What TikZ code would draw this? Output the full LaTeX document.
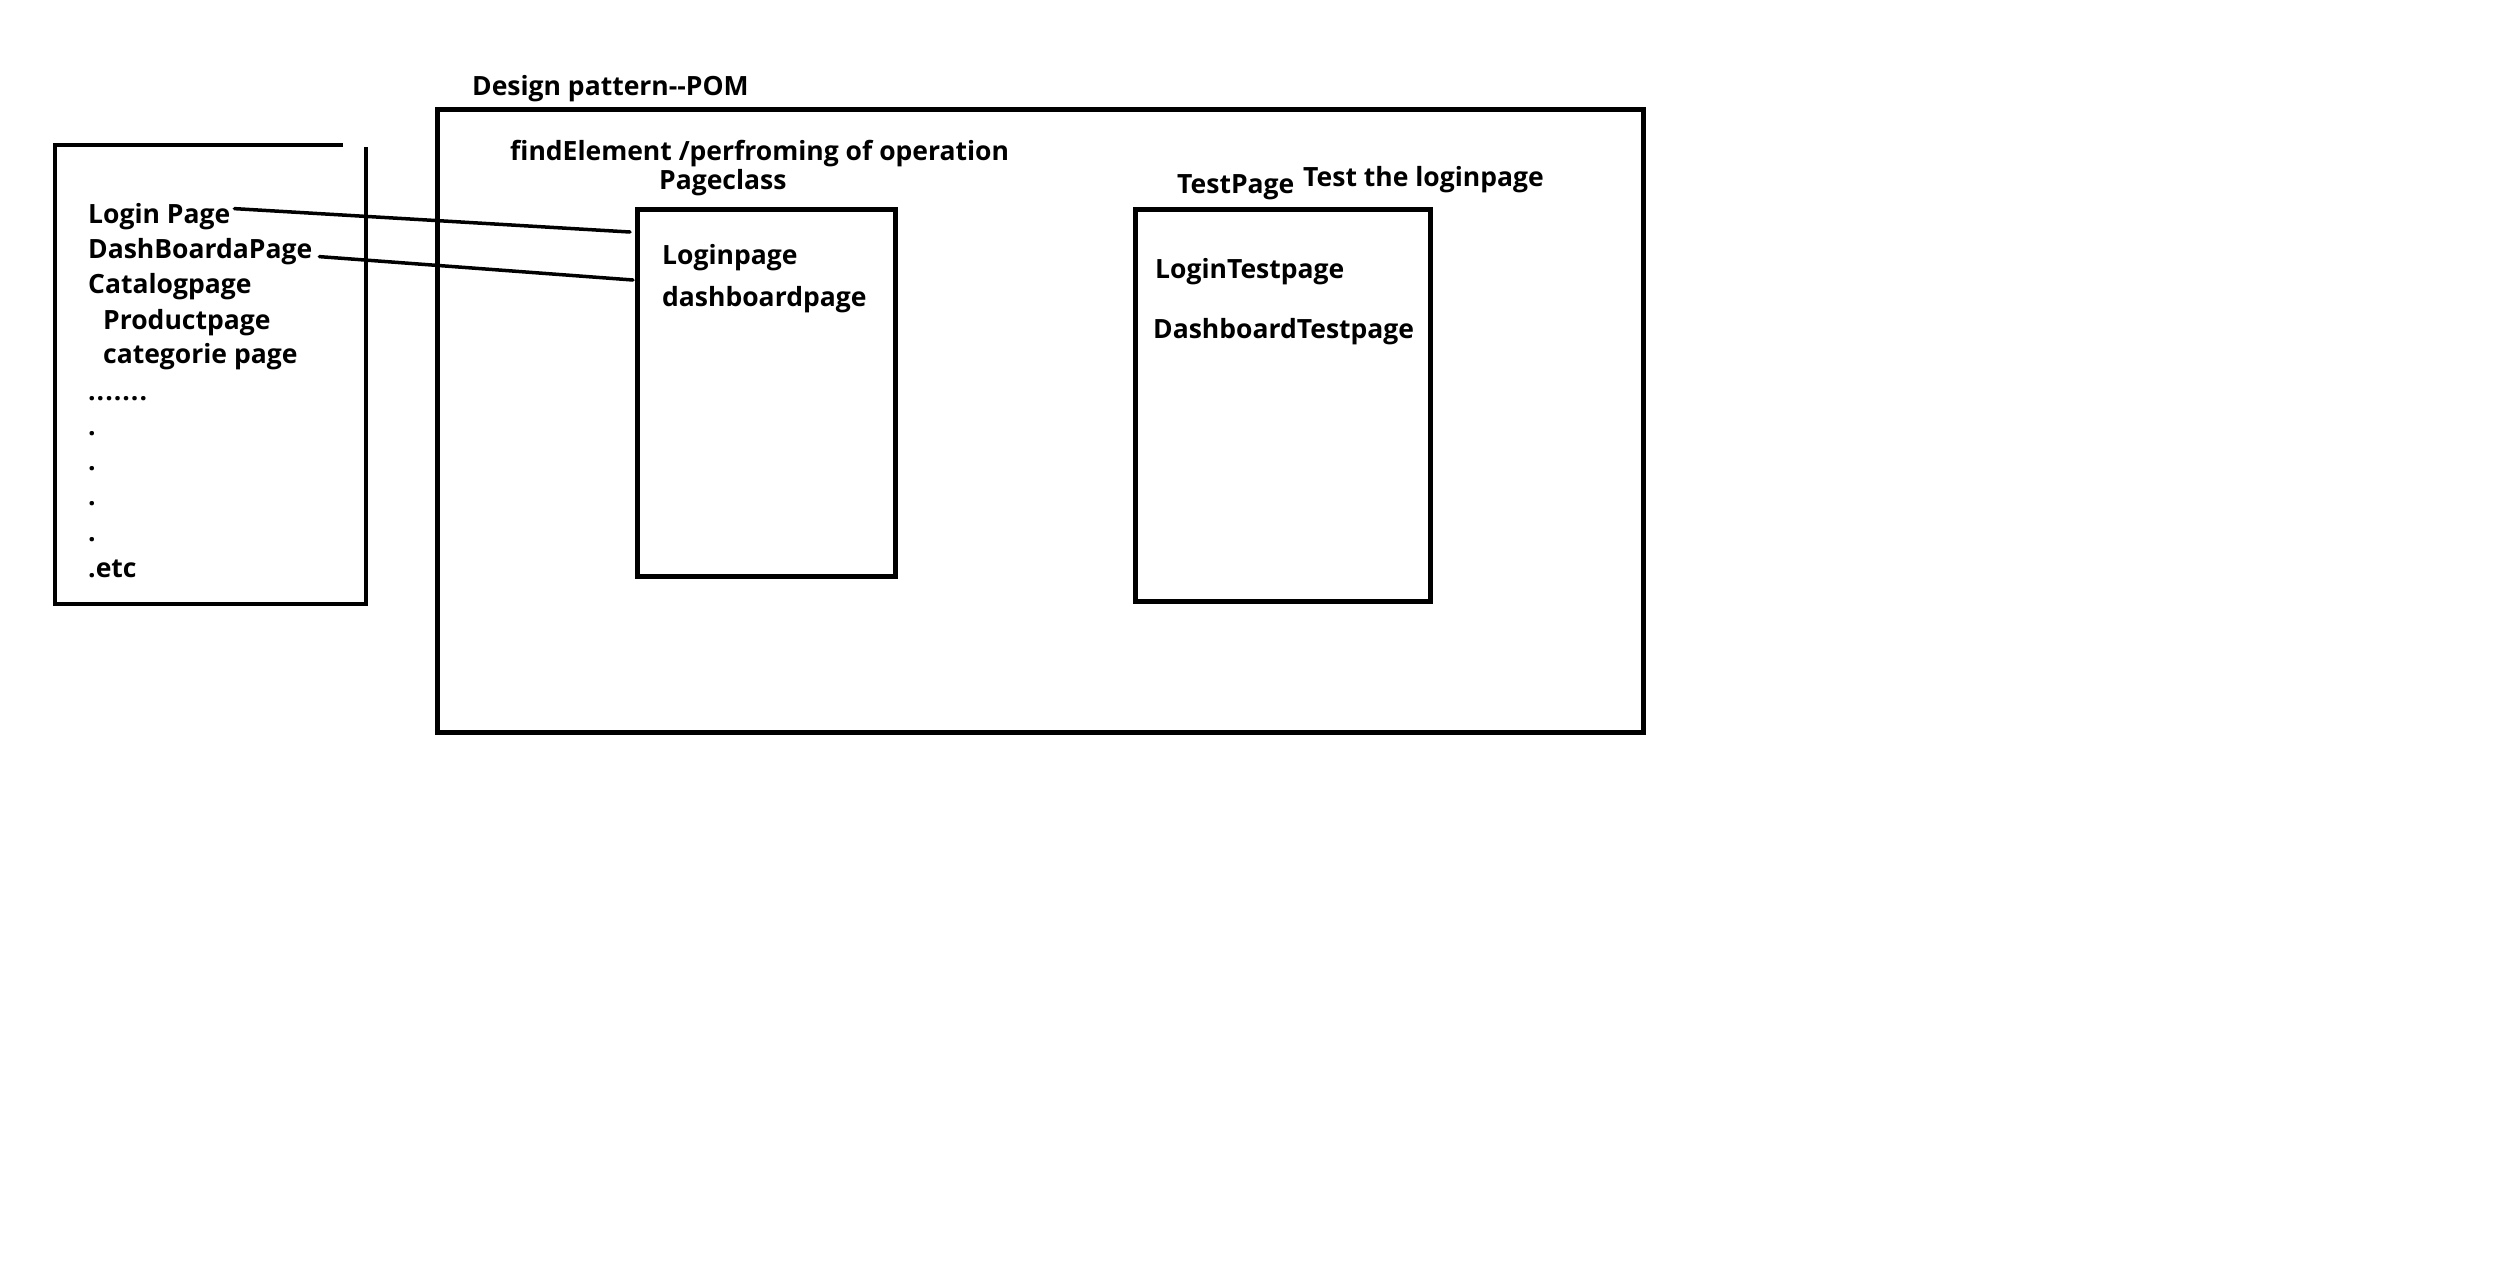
\documentclass[tikz,border=0pt]{standalone}
\usepackage{fontspec}
\setmainfont{Open Sans}

\begin{document}
\begin{tikzpicture}[x=1pt,y=-1pt,
    txt/.style={anchor=base west,inner sep=0pt,font=\fontsize{26.5}{30}\selectfont\bfseries},
    frame/.style={draw,line width=4.5pt,anchor=north west,inner sep=0pt},
    link/.style={line width=3.5pt,line cap=round}]
\useasboundingbox (0,0) rectangle (2501,1270);
% list of pages
\draw[line width=4.5pt] (343,145) -- (55,145) -- (55,604) -- (366,604) -- (366,147);
\node[txt] (login) at (88,223) {Login Page};
\node[txt] (dash) at (88,258) {DashBoardaPage};
\node[txt] (catalog) at (88,293) {Catalogpage};
\node[txt] (product) at (103,329) {Productpage};
\node[txt] (categorie) at (103,363) {categorie page};
\node[txt] (dots) at (88,400) {.\kern1pt.\kern1pt.\kern1pt.\kern1pt.\kern1pt.\kern1pt.};
\foreach \n/\y in {1/435,2/470,3/505,4/541}
  \node[txt] (dot\n) at (88,\y) {.};
\node[txt] (etc) at (88,577) {.etc};
% POM
\node[txt] (pomtitle) at (472,95) {Design pattern{-}{-}POM};
\node[frame,minimum width=1206pt,minimum height=623pt] (pom) at (435,107) {};
\node[txt] (find) at (510,160) {findElement /perfroming of operation};
\node[txt] (pcname) at (659,189) {Pageclass};
\node[frame,minimum width=258pt,minimum height=367pt] (pcbox) at (635,207) {};
\node[txt] (pclogin) at (662,264) {Loginpage};
\node[txt] (pcdash) at (662,306) {dashboardpage};
\node[txt] (tpname) at (1177,193) {TestPage};
\node[txt] (tpnote) at (1303,186) {Test the loginpage};
\node[frame,minimum width=295pt,minimum height=392pt] (tpbox) at (1133,207) {};
\node[txt] (tplogin) at (1155,278) {LoginTestpage};
\node[txt] (tpdash) at (1153,338) {DashboardTestpage};
% links
\coordinate (pcin1) at (630,232);
\coordinate (pcin2) at (633,280);
\draw[link] ([xshift=4pt,yshift=7.5pt]login.east) -- (pcin1);
\draw[link] ([xshift=7pt,yshift=-5.5pt]dash.east) -- (pcin2);
\end{tikzpicture}
\end{document}
